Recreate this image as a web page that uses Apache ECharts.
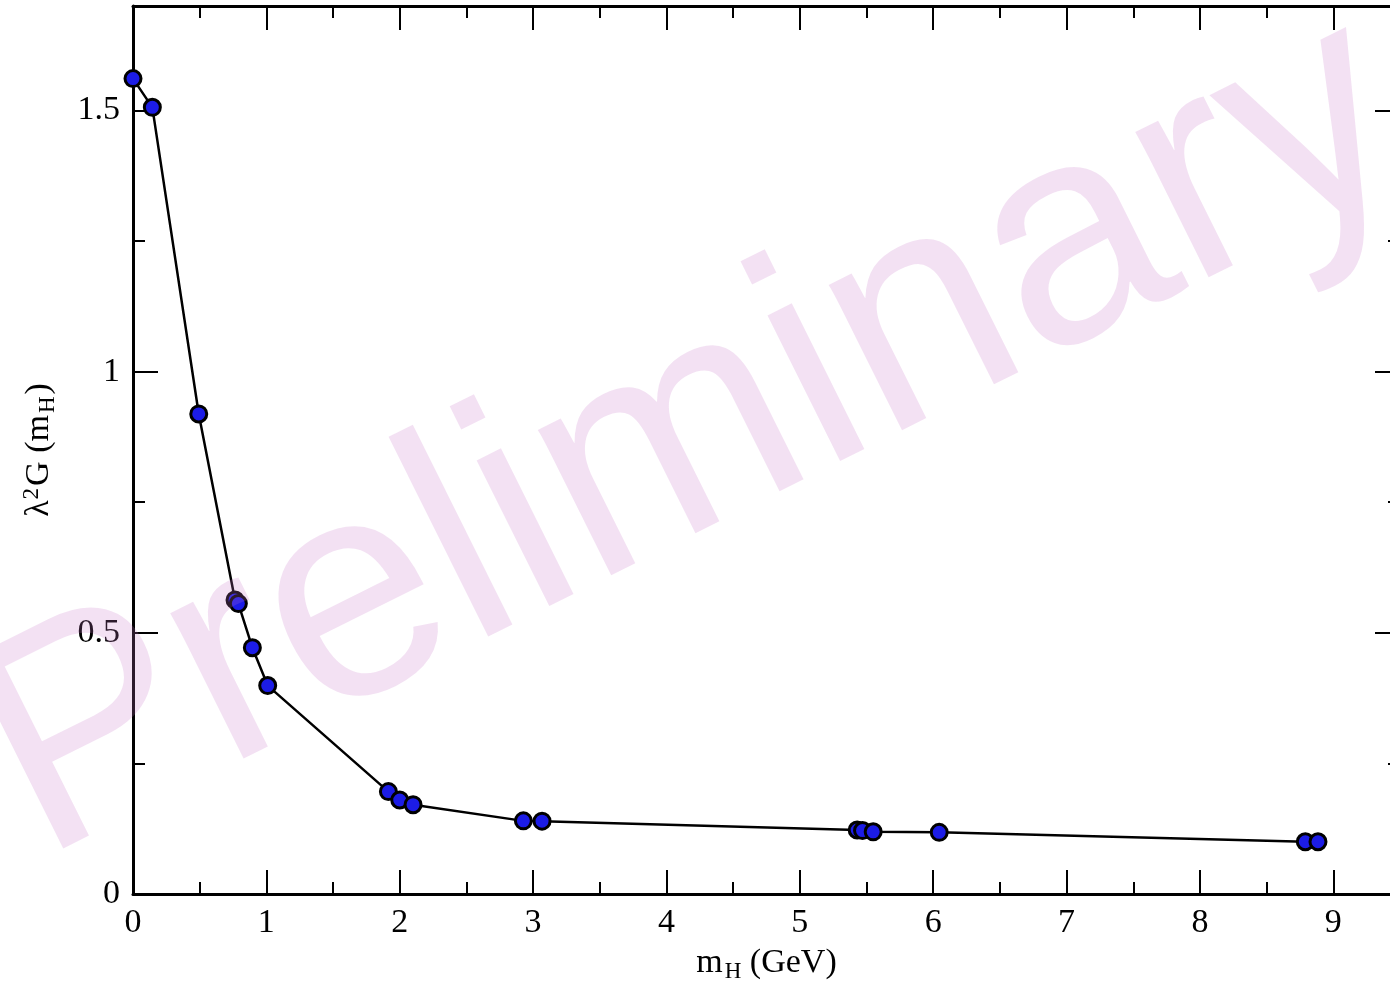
<!DOCTYPE html>
<html>
<head>
<meta charset="utf-8">
<script src="https://cdn.jsdelivr.net/npm/echarts@6/dist/echarts.min.js"></script>
<style>
  html, body { margin: 0; padding: 0; background: #fff; }
  #main { width: 1390px; height: 987px; }
</style>
</head>
<body>
<div id="main"></div>
<script>
// m_H (GeV) and lambda^2 G(m_H)
var mH = [0.0, 0.145, 0.493, 0.765, 0.79, 0.895, 1.01, 1.915, 2.0, 2.1, 2.927, 3.067, 5.43, 5.47, 5.55, 6.045, 8.79, 8.885];
var G  = [1.561, 1.506, 0.919, 0.563, 0.556, 0.4715, 0.399, 0.196, 0.180, 0.171, 0.140, 0.1395, 0.1225, 0.1215, 0.119, 0.118, 0.100, 0.100];

var xMajor = [0, 1, 2, 3, 4, 5, 6, 7, 8, 9];
var xMinor = [0.5, 1.5, 2.5, 3.5, 4.5, 5.5, 6.5, 7.5, 8.5];
var yMajor = [0, 0.5, 1, 1.5];
var yMinor = [0.25, 0.75, 1.25];

var points = mH.map(function (x, i) { return [x, G[i]]; });

var serif = '"Liberation Serif", "DejaVu Serif", serif';
var black = '#000';

function xAx(pos, ticks, len, withLine, withLabel) {
    return {
        type: 'value', position: pos, min: 0, max: 9.5,
        axisLine: { show: withLine, onZero: false, lineStyle: { color: black, width: 3 } },
        axisTick: { show: true, inside: true, length: len, customValues: ticks, lineStyle: { color: black, width: 2 } },
        axisLabel: withLabel ? { show: true, customValues: ticks, margin: 12, color: black, fontFamily: serif, fontSize: 34 } : { show: false },
        splitLine: { show: false }
    };
}
function yAx(pos, ticks, len, withLine, withLabel) {
    return {
        type: 'value', position: pos, min: 0, max: 1.7,
        axisLine: { show: withLine, onZero: false, lineStyle: { color: black, width: 3 } },
        axisTick: { show: true, inside: true, length: len, customValues: ticks, lineStyle: { color: black, width: 2 } },
        axisLabel: withLabel ? { show: true, customValues: ticks, margin: 13, color: black, fontFamily: serif, fontSize: 34 } : { show: false },
        splitLine: { show: false }
    };
}

var xAxes = [
    xAx('bottom', xMajor, 24, true, true),
    xAx('bottom', xMinor, 12, false, false),
    xAx('top', xMajor, 24, true, false),
    xAx('top', xMinor, 12, false, false)
];
xAxes[0].name = '{m|m}{s|H}{m| (GeV)}';
xAxes[0].nameLocation = 'middle';
xAxes[0].nameGap = 50;
xAxes[0].nameTextStyle = {
    color: black, fontFamily: serif, fontSize: 34,
    rich: {
        m: { fontFamily: serif, fontSize: 34, color: black },
        s: { fontFamily: serif, fontSize: 23, color: black, padding: [16, 0, 0, 2] }
    }
};

var yAxes = [
    yAx('left', yMajor, 25, true, true),
    yAx('left', yMinor, 12, false, false),
    yAx('right', yMajor, 25, true, false),
    yAx('right', yMinor, 12, false, false)
];
yAxes[0].name = '{m|\u03bb}{p|2}{m|G (m}{s|H}{m|)}';
yAxes[0].nameLocation = 'middle';
yAxes[0].nameGap = 74;
yAxes[0].nameTextStyle = {
    color: black, fontFamily: serif, fontSize: 34,
    rich: {
        m: { fontFamily: serif, fontSize: 34, color: black },
        p: { fontFamily: serif, fontSize: 23, color: black, padding: [0, 2, 16, 1] },
        s: { fontFamily: serif, fontSize: 23, color: black, padding: [16, 2, 0, 2] }
    }
};

var chart = echarts.init(document.getElementById('main'));
chart.setOption({
    backgroundColor: '#fff',
    animation: false,
    grid: { left: 133, top: 6, width: 1267, height: 888, containLabel: false, outerBoundsMode: 'none' },
    xAxis: xAxes,
    yAxis: yAxes,
    series: [{
        type: 'line',
        xAxisIndex: 0, yAxisIndex: 0,
        data: points,
        symbol: 'circle',
        symbolSize: 16,
        lineStyle: { color: black, width: 2.5 },
        itemStyle: { color: '#1c1ce6', borderColor: black, borderWidth: 3 },
        z: 3
    }],
    graphic: [{
        type: 'text',
        x: 692, y: 440,
        rotation: 26.5 * Math.PI / 180,
        z: 100,
        silent: true,
        style: {
            text: 'Preliminary',
            fontFamily: '"Liberation Sans", Arial, sans-serif',
            fontSize: 308,
            fill: 'rgba(200,120,200,0.22)',
            align: 'center',
            verticalAlign: 'middle',
            shadowColor: 'rgba(0,0,0,0.08)',
            shadowBlur: 8,
            shadowOffsetX: 4,
            shadowOffsetY: 4
        }
    }]
});
</script>
</body>
</html>
